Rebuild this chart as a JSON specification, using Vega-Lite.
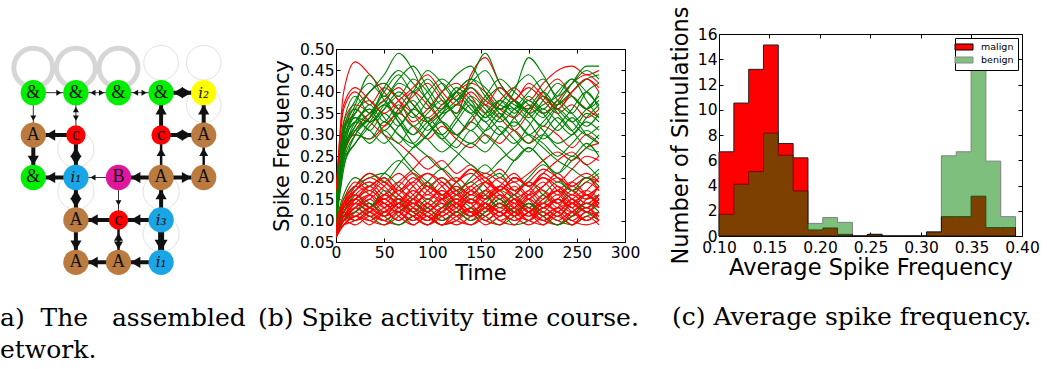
{
  "$schema": "https://vega.github.io/schema/vega-lite/v6.json",
  "background": "white",
  "padding": {"left": 0, "top": 5, "right": 5, "bottom": 5},
  "spacing": 94,
  "bounds": "flush",
  "resolve": {"scale": {"color": "independent"}, "legend": {"color": "independent"}},
  "datasets": {
    "nodes": [
      {"c": 0, "r": 0, "k": "and", "lab": "&"},
      {"c": 1, "r": 0, "k": "and", "lab": "&"},
      {"c": 2, "r": 0, "k": "and", "lab": "&"},
      {"c": 3, "r": 0, "k": "and", "lab": "&"},
      {"c": 4, "r": 0, "k": "out", "lab": "i₂"},
      {"c": 0, "r": 1, "k": "A", "lab": "A"},
      {"c": 1, "r": 1, "k": "c", "lab": "c"},
      {"c": 3, "r": 1, "k": "c", "lab": "c"},
      {"c": 4, "r": 1, "k": "A", "lab": "A"},
      {"c": 0, "r": 2, "k": "and", "lab": "&"},
      {"c": 1, "r": 2, "k": "in", "lab": "i₁"},
      {"c": 2, "r": 2, "k": "B", "lab": "B"},
      {"c": 3, "r": 2, "k": "A", "lab": "A"},
      {"c": 4, "r": 2, "k": "A", "lab": "A"},
      {"c": 1, "r": 3, "k": "A", "lab": "A"},
      {"c": 2, "r": 3, "k": "c", "lab": "c"},
      {"c": 3, "r": 3, "k": "in", "lab": "i₃"},
      {"c": 1, "r": 4, "k": "A", "lab": "A"},
      {"c": 2, "r": 4, "k": "A", "lab": "A"},
      {"c": 3, "r": 4, "k": "in", "lab": "i₁"}
    ],
    "edges": [
      {"c": 0, "r": 0, "c2": 1, "r2": 0, "w": 1},
      {"c": 1, "r": 0, "c2": 2, "r2": 0, "w": 1},
      {"c": 2, "r": 0, "c2": 3, "r2": 0, "w": 1},
      {"c": 3, "r": 0, "c2": 4, "r2": 0, "w": 3},
      {"c": 0, "r": 0, "c2": 0, "r2": 1, "w": 1},
      {"c": 1, "r": 0, "c2": 1, "r2": 1, "w": 1},
      {"c": 1, "r": 1, "c2": 0, "r2": 1, "w": 3},
      {"c": 0, "r": 1, "c2": 0, "r2": 2, "w": 3},
      {"c": 1, "r": 2, "c2": 1, "r2": 1, "w": 3},
      {"c": 1, "r": 2, "c2": 0, "r2": 2, "w": 3},
      {"c": 2, "r": 2, "c2": 1, "r2": 2, "w": 1},
      {"c": 3, "r": 2, "c2": 2, "r2": 2, "w": 3},
      {"c": 3, "r": 2, "c2": 4, "r2": 2, "w": 3},
      {"c": 3, "r": 1, "c2": 3, "r2": 0, "w": 3},
      {"c": 3, "r": 2, "c2": 3, "r2": 1, "w": 2},
      {"c": 3, "r": 1, "c2": 4, "r2": 1, "w": 3},
      {"c": 4, "r": 1, "c2": 4, "r2": 0, "w": 3},
      {"c": 4, "r": 2, "c2": 4, "r2": 1, "w": 2},
      {"c": 1, "r": 2, "c2": 1, "r2": 3, "w": 3},
      {"c": 2, "r": 2, "c2": 2, "r2": 3, "w": 1},
      {"c": 3, "r": 3, "c2": 3, "r2": 2, "w": 3},
      {"c": 3, "r": 3, "c2": 2, "r2": 3, "w": 3},
      {"c": 2, "r": 3, "c2": 1, "r2": 3, "w": 3},
      {"c": 1, "r": 3, "c2": 1, "r2": 4, "w": 3},
      {"c": 2, "r": 3, "c2": 2, "r2": 4, "w": 2},
      {"c": 3, "r": 3, "c2": 3, "r2": 4, "w": 4},
      {"c": 3, "r": 4, "c2": 2, "r2": 4, "w": 3},
      {"c": 2, "r": 4, "c2": 1, "r2": 4, "w": 3}
    ],
    "heads": [
      {"c": 1, "r": 0, "dir": "R", "w": 1},
      {"c": 2, "r": 0, "dir": "R", "w": 1},
      {"c": 1, "r": 0, "dir": "L", "w": 1},
      {"c": 3, "r": 0, "dir": "R", "w": 1},
      {"c": 2, "r": 0, "dir": "L", "w": 1},
      {"c": 4, "r": 0, "dir": "R", "w": 3},
      {"c": 3, "r": 0, "dir": "L", "w": 3},
      {"c": 0, "r": 1, "dir": "D", "w": 1},
      {"c": 1, "r": 1, "dir": "D", "w": 1},
      {"c": 1, "r": 0, "dir": "U", "w": 1},
      {"c": 0, "r": 1, "dir": "L", "w": 3},
      {"c": 0, "r": 2, "dir": "D", "w": 3},
      {"c": 1, "r": 1, "dir": "U", "w": 3},
      {"c": 1, "r": 2, "dir": "D", "w": 3},
      {"c": 0, "r": 2, "dir": "L", "w": 3},
      {"c": 1, "r": 2, "dir": "L", "w": 1},
      {"c": 2, "r": 2, "dir": "L", "w": 3},
      {"c": 4, "r": 2, "dir": "R", "w": 3},
      {"c": 3, "r": 0, "dir": "U", "w": 3},
      {"c": 3, "r": 1, "dir": "U", "w": 2},
      {"c": 4, "r": 1, "dir": "R", "w": 3},
      {"c": 3, "r": 1, "dir": "L", "w": 3},
      {"c": 4, "r": 0, "dir": "U", "w": 3},
      {"c": 4, "r": 1, "dir": "U", "w": 2},
      {"c": 1, "r": 3, "dir": "D", "w": 3},
      {"c": 1, "r": 2, "dir": "U", "w": 3},
      {"c": 2, "r": 3, "dir": "D", "w": 1},
      {"c": 3, "r": 2, "dir": "U", "w": 3},
      {"c": 2, "r": 3, "dir": "L", "w": 3},
      {"c": 1, "r": 3, "dir": "L", "w": 3},
      {"c": 1, "r": 4, "dir": "D", "w": 3},
      {"c": 2, "r": 4, "dir": "D", "w": 2},
      {"c": 2, "r": 3, "dir": "U", "w": 2},
      {"c": 3, "r": 4, "dir": "D", "w": 4},
      {"c": 2, "r": 4, "dir": "L", "w": 3},
      {"c": 1, "r": 4, "dir": "L", "w": 3}
    ],
    "loops": [
      {"c": 0, "r": 0, "kind": "thick"},
      {"c": 1, "r": 0, "kind": "thick"},
      {"c": 2, "r": 0, "kind": "thick"},
      {"c": 3, "r": 0, "kind": "above"},
      {"c": 4, "r": 0, "kind": "above"},
      {"c": 4, "r": 1, "kind": "above"},
      {"c": 1, "r": 1, "kind": "below"},
      {"c": 1, "r": 2, "kind": "below"},
      {"c": 3, "r": 2, "kind": "below"},
      {"c": 3, "r": 3, "kind": "below"}
    ],
    "runs": [
      {"s": 1, "g": "malign"}, {"s": 2, "g": "malign"}, {"s": 3, "g": "malign"}, {"s": 4, "g": "malign"},
      {"s": 5, "g": "malign"}, {"s": 6, "g": "malign"}, {"s": 7, "g": "malign"}, {"s": 8, "g": "malign"},
      {"s": 9, "g": "benign"}, {"s": 10, "g": "benign"}, {"s": 11, "g": "benign"}, {"s": 12, "g": "benign"},
      {"s": 13, "g": "benign"}, {"s": 14, "g": "benign"}, {"s": 15, "g": "benign"}, {"s": 16, "g": "benign"},
      {"s": 17, "g": "benign"}, {"s": 18, "g": "benign"}, {"s": 19, "g": "benign"}, {"s": 20, "g": "benign"},
      {"s": 21, "g": "benign"}, {"s": 22, "g": "benign"}, {"s": 23, "g": "benign"}, {"s": 24, "g": "benign"},
      {"s": 25, "g": "benign"}, {"s": 26, "g": "benign"}, {"s": 27, "g": "benign"}, {"s": 28, "g": "benign"},
      {"s": 29, "g": "benign"},
      {"s": 30, "g": "malign"}, {"s": 31, "g": "malign"}, {"s": 32, "g": "malign"}, {"s": 33, "g": "malign"},
      {"s": 34, "g": "malign"}, {"s": 35, "g": "malign"}, {"s": 36, "g": "malign"}, {"s": 37, "g": "malign"},
      {"s": 38, "g": "malign"}, {"s": 39, "g": "malign"}, {"s": 40, "g": "malign"}, {"s": 41, "g": "malign"},
      {"s": 42, "g": "malign"}, {"s": 43, "g": "malign"}, {"s": 44, "g": "malign"}, {"s": 45, "g": "malign"},
      {"s": 46, "g": "malign"}, {"s": 47, "g": "malign"}, {"s": 48, "g": "malign"}, {"s": 49, "g": "malign"},
      {"s": 50, "g": "malign"}, {"s": 51, "g": "malign"}, {"s": 52, "g": "malign"},
      {"s": 53, "g": "benign"}, {"s": 54, "g": "benign"}, {"s": 55, "g": "benign"}, {"s": 56, "g": "benign"},
      {"s": 57, "g": "benign"}, {"s": 58, "g": "benign"}, {"s": 59, "g": "benign"}, {"s": 60, "g": "benign"},
      {"s": 61, "g": "malign"}, {"s": 62, "g": "malign"}, {"s": 63, "g": "malign"}, {"s": 64, "g": "malign"},
      {"s": 65, "g": "malign"}, {"s": 66, "g": "malign"}, {"s": 67, "g": "malign"}, {"s": 68, "g": "malign"}
    ],
    "traces": [
      {"s":1,"t":0,"y":0.15},{"s":1,"t":8,"y":0.40},{"s":1,"t":20,"y":0.47},{"s":1,"t":35,"y":0.44},{"s":1,"t":50,"y":0.40},{"s":1,"t":65,"y":0.36},{"s":1,"t":80,"y":0.39},{"s":1,"t":95,"y":0.42},{"s":1,"t":110,"y":0.38},{"s":1,"t":125,"y":0.35},{"s":1,"t":140,"y":0.44},{"s":1,"t":155,"y":0.48},{"s":1,"t":170,"y":0.42},{"s":1,"t":185,"y":0.38},{"s":1,"t":200,"y":0.36},{"s":1,"t":215,"y":0.40},{"s":1,"t":230,"y":0.43},{"s":1,"t":245,"y":0.39},{"s":1,"t":260,"y":0.36},{"s":1,"t":273,"y":0.34},
      {"s":2,"t":0,"y":0.14},{"s":2,"t":8,"y":0.36},{"s":2,"t":20,"y":0.40},{"s":2,"t":35,"y":0.37},{"s":2,"t":50,"y":0.41},{"s":2,"t":65,"y":0.38},{"s":2,"t":80,"y":0.33},{"s":2,"t":95,"y":0.36},{"s":2,"t":110,"y":0.40},{"s":2,"t":125,"y":0.42},{"s":2,"t":140,"y":0.39},{"s":2,"t":155,"y":0.35},{"s":2,"t":170,"y":0.38},{"s":2,"t":185,"y":0.41},{"s":2,"t":200,"y":0.38},{"s":2,"t":215,"y":0.42},{"s":2,"t":230,"y":0.45},{"s":2,"t":245,"y":0.46},{"s":2,"t":260,"y":0.44},{"s":2,"t":273,"y":0.45},
      {"s":3,"t":0,"y":0.12},{"s":3,"t":8,"y":0.33},{"s":3,"t":20,"y":0.37},{"s":3,"t":35,"y":0.35},{"s":3,"t":50,"y":0.32},{"s":3,"t":65,"y":0.36},{"s":3,"t":80,"y":0.40},{"s":3,"t":95,"y":0.37},{"s":3,"t":110,"y":0.33},{"s":3,"t":125,"y":0.30},{"s":3,"t":140,"y":0.33},{"s":3,"t":155,"y":0.37},{"s":3,"t":170,"y":0.34},{"s":3,"t":185,"y":0.31},{"s":3,"t":200,"y":0.35},{"s":3,"t":215,"y":0.39},{"s":3,"t":230,"y":0.37},{"s":3,"t":245,"y":0.40},{"s":3,"t":260,"y":0.43},{"s":3,"t":273,"y":0.40},
      {"s":4,"t":0,"y":0.16},{"s":4,"t":8,"y":0.32},{"s":4,"t":20,"y":0.35},{"s":4,"t":35,"y":0.40},{"s":4,"t":50,"y":0.42},{"s":4,"t":65,"y":0.38},{"s":4,"t":80,"y":0.35},{"s":4,"t":95,"y":0.33},{"s":4,"t":110,"y":0.36},{"s":4,"t":125,"y":0.39},{"s":4,"t":140,"y":0.41},{"s":4,"t":155,"y":0.38},{"s":4,"t":170,"y":0.36},{"s":4,"t":185,"y":0.38},{"s":4,"t":200,"y":0.41},{"s":4,"t":215,"y":0.38},{"s":4,"t":230,"y":0.35},{"s":4,"t":245,"y":0.37},{"s":4,"t":260,"y":0.34},{"s":4,"t":273,"y":0.36},
      {"s":5,"t":0,"y":0.13},{"s":5,"t":8,"y":0.28},{"s":5,"t":20,"y":0.30},{"s":5,"t":35,"y":0.29},{"s":5,"t":50,"y":0.32},{"s":5,"t":65,"y":0.35},{"s":5,"t":80,"y":0.32},{"s":5,"t":95,"y":0.29},{"s":5,"t":110,"y":0.32},{"s":5,"t":125,"y":0.29},{"s":5,"t":140,"y":0.27},{"s":5,"t":155,"y":0.30},{"s":5,"t":170,"y":0.28},{"s":5,"t":185,"y":0.31},{"s":5,"t":200,"y":0.28},{"s":5,"t":215,"y":0.32},{"s":5,"t":230,"y":0.30},{"s":5,"t":245,"y":0.27},{"s":5,"t":260,"y":0.30},{"s":5,"t":273,"y":0.28},
      {"s":6,"t":0,"y":0.11},{"s":6,"t":8,"y":0.30},{"s":6,"t":20,"y":0.36},{"s":6,"t":35,"y":0.33},{"s":6,"t":50,"y":0.30},{"s":6,"t":65,"y":0.28},{"s":6,"t":80,"y":0.25},{"s":6,"t":95,"y":0.22},{"s":6,"t":110,"y":0.24},{"s":6,"t":125,"y":0.21},{"s":6,"t":140,"y":0.23},{"s":6,"t":155,"y":0.20},{"s":6,"t":170,"y":0.22},{"s":6,"t":185,"y":0.19},{"s":6,"t":200,"y":0.21},{"s":6,"t":215,"y":0.24},{"s":6,"t":230,"y":0.26},{"s":6,"t":245,"y":0.24},{"s":6,"t":260,"y":0.27},{"s":6,"t":273,"y":0.28},
      {"s":7,"t":0,"y":0.10},{"s":7,"t":8,"y":0.25},{"s":7,"t":20,"y":0.31},{"s":7,"t":35,"y":0.35},{"s":7,"t":50,"y":0.38},{"s":7,"t":65,"y":0.41},{"s":7,"t":80,"y":0.37},{"s":7,"t":95,"y":0.34},{"s":7,"t":110,"y":0.37},{"s":7,"t":125,"y":0.40},{"s":7,"t":140,"y":0.42},{"s":7,"t":155,"y":0.40},{"s":7,"t":170,"y":0.36},{"s":7,"t":185,"y":0.34},{"s":7,"t":200,"y":0.37},{"s":7,"t":215,"y":0.35},{"s":7,"t":230,"y":0.38},{"s":7,"t":245,"y":0.42},{"s":7,"t":260,"y":0.44},{"s":7,"t":273,"y":0.42},
      {"s":8,"t":0,"y":0.08},{"s":8,"t":8,"y":0.14},{"s":8,"t":20,"y":0.17},{"s":8,"t":35,"y":0.19},{"s":8,"t":50,"y":0.16},{"s":8,"t":65,"y":0.19},{"s":8,"t":80,"y":0.22},{"s":8,"t":95,"y":0.25},{"s":8,"t":110,"y":0.22},{"s":8,"t":125,"y":0.19},{"s":8,"t":140,"y":0.22},{"s":8,"t":155,"y":0.20},{"s":8,"t":170,"y":0.17},{"s":8,"t":185,"y":0.20},{"s":8,"t":200,"y":0.18},{"s":8,"t":215,"y":0.21},{"s":8,"t":230,"y":0.19},{"s":8,"t":245,"y":0.22},{"s":8,"t":260,"y":0.25},{"s":8,"t":273,"y":0.24},
      {"s":9,"t":0,"y":0.10},{"s":9,"t":8,"y":0.28},{"s":9,"t":20,"y":0.36},{"s":9,"t":35,"y":0.40},{"s":9,"t":50,"y":0.44},{"s":9,"t":65,"y":0.49},{"s":9,"t":80,"y":0.45},{"s":9,"t":95,"y":0.38},{"s":9,"t":110,"y":0.36},{"s":9,"t":125,"y":0.40},{"s":9,"t":140,"y":0.43},{"s":9,"t":155,"y":0.41},{"s":9,"t":170,"y":0.37},{"s":9,"t":185,"y":0.36},{"s":9,"t":200,"y":0.38},{"s":9,"t":215,"y":0.35},{"s":9,"t":230,"y":0.37},{"s":9,"t":245,"y":0.40},{"s":9,"t":260,"y":0.43},{"s":9,"t":273,"y":0.44},
      {"s":10,"t":0,"y":0.12},{"s":10,"t":8,"y":0.30},{"s":10,"t":20,"y":0.37},{"s":10,"t":35,"y":0.44},{"s":10,"t":50,"y":0.38},{"s":10,"t":65,"y":0.35},{"s":10,"t":80,"y":0.40},{"s":10,"t":95,"y":0.45},{"s":10,"t":110,"y":0.42},{"s":10,"t":125,"y":0.38},{"s":10,"t":140,"y":0.43},{"s":10,"t":155,"y":0.49},{"s":10,"t":170,"y":0.42},{"s":10,"t":185,"y":0.38},{"s":10,"t":200,"y":0.34},{"s":10,"t":215,"y":0.38},{"s":10,"t":230,"y":0.42},{"s":10,"t":245,"y":0.39},{"s":10,"t":260,"y":0.36},{"s":10,"t":273,"y":0.38},
      {"s":11,"t":0,"y":0.09},{"s":11,"t":8,"y":0.26},{"s":11,"t":20,"y":0.34},{"s":11,"t":35,"y":0.33},{"s":11,"t":50,"y":0.37},{"s":11,"t":65,"y":0.42},{"s":11,"t":80,"y":0.40},{"s":11,"t":95,"y":0.36},{"s":11,"t":110,"y":0.40},{"s":11,"t":125,"y":0.44},{"s":11,"t":140,"y":0.46},{"s":11,"t":155,"y":0.40},{"s":11,"t":170,"y":0.36},{"s":11,"t":185,"y":0.40},{"s":11,"t":200,"y":0.48},{"s":11,"t":215,"y":0.44},{"s":11,"t":230,"y":0.38},{"s":11,"t":245,"y":0.35},{"s":11,"t":260,"y":0.40},{"s":11,"t":273,"y":0.42},
      {"s":12,"t":0,"y":0.11},{"s":12,"t":8,"y":0.29},{"s":12,"t":20,"y":0.33},{"s":12,"t":35,"y":0.36},{"s":12,"t":50,"y":0.31},{"s":12,"t":65,"y":0.35},{"s":12,"t":80,"y":0.38},{"s":12,"t":95,"y":0.33},{"s":12,"t":110,"y":0.30},{"s":12,"t":125,"y":0.34},{"s":12,"t":140,"y":0.38},{"s":12,"t":155,"y":0.35},{"s":12,"t":170,"y":0.31},{"s":12,"t":185,"y":0.28},{"s":12,"t":200,"y":0.32},{"s":12,"t":215,"y":0.36},{"s":12,"t":230,"y":0.33},{"s":12,"t":245,"y":0.30},{"s":12,"t":260,"y":0.34},{"s":12,"t":273,"y":0.37},
      {"s":13,"t":0,"y":0.08},{"s":13,"t":8,"y":0.25},{"s":13,"t":20,"y":0.32},{"s":13,"t":35,"y":0.35},{"s":13,"t":50,"y":0.39},{"s":13,"t":65,"y":0.36},{"s":13,"t":80,"y":0.32},{"s":13,"t":95,"y":0.35},{"s":13,"t":110,"y":0.38},{"s":13,"t":125,"y":0.34},{"s":13,"t":140,"y":0.31},{"s":13,"t":155,"y":0.35},{"s":13,"t":170,"y":0.38},{"s":13,"t":185,"y":0.36},{"s":13,"t":200,"y":0.33},{"s":13,"t":215,"y":0.29},{"s":13,"t":230,"y":0.32},{"s":13,"t":245,"y":0.36},{"s":13,"t":260,"y":0.40},{"s":13,"t":273,"y":0.36},
      {"s":14,"t":0,"y":0.13},{"s":14,"t":8,"y":0.31},{"s":14,"t":20,"y":0.35},{"s":14,"t":35,"y":0.40},{"s":14,"t":50,"y":0.42},{"s":14,"t":65,"y":0.39},{"s":14,"t":80,"y":0.43},{"s":14,"t":95,"y":0.40},{"s":14,"t":110,"y":0.35},{"s":14,"t":125,"y":0.37},{"s":14,"t":140,"y":0.41},{"s":14,"t":155,"y":0.37},{"s":14,"t":170,"y":0.34},{"s":14,"t":185,"y":0.38},{"s":14,"t":200,"y":0.35},{"s":14,"t":215,"y":0.31},{"s":14,"t":230,"y":0.28},{"s":14,"t":245,"y":0.30},{"s":14,"t":260,"y":0.33},{"s":14,"t":273,"y":0.31},
      {"s":15,"t":0,"y":0.10},{"s":15,"t":8,"y":0.27},{"s":15,"t":20,"y":0.31},{"s":15,"t":35,"y":0.34},{"s":15,"t":50,"y":0.37},{"s":15,"t":65,"y":0.33},{"s":15,"t":80,"y":0.30},{"s":15,"t":95,"y":0.33},{"s":15,"t":110,"y":0.36},{"s":15,"t":125,"y":0.40},{"s":15,"t":140,"y":0.37},{"s":15,"t":155,"y":0.33},{"s":15,"t":170,"y":0.36},{"s":15,"t":185,"y":0.34},{"s":15,"t":200,"y":0.30},{"s":15,"t":215,"y":0.33},{"s":15,"t":230,"y":0.37},{"s":15,"t":245,"y":0.42},{"s":15,"t":260,"y":0.46},{"s":15,"t":273,"y":0.46},
      {"s":16,"t":0,"y":0.12},{"s":16,"t":8,"y":0.28},{"s":16,"t":20,"y":0.35},{"s":16,"t":35,"y":0.38},{"s":16,"t":50,"y":0.34},{"s":16,"t":65,"y":0.30},{"s":16,"t":80,"y":0.28},{"s":16,"t":95,"y":0.32},{"s":16,"t":110,"y":0.35},{"s":16,"t":125,"y":0.38},{"s":16,"t":140,"y":0.42},{"s":16,"t":155,"y":0.45},{"s":16,"t":170,"y":0.40},{"s":16,"t":185,"y":0.37},{"s":16,"t":200,"y":0.36},{"s":16,"t":215,"y":0.39},{"s":16,"t":230,"y":0.35},{"s":16,"t":245,"y":0.31},{"s":16,"t":260,"y":0.27},{"s":16,"t":273,"y":0.26},
      {"s":17,"t":0,"y":0.09},{"s":17,"t":8,"y":0.24},{"s":17,"t":20,"y":0.30},{"s":17,"t":35,"y":0.34},{"s":17,"t":50,"y":0.41},{"s":17,"t":65,"y":0.45},{"s":17,"t":80,"y":0.42},{"s":17,"t":95,"y":0.38},{"s":17,"t":110,"y":0.33},{"s":17,"t":125,"y":0.30},{"s":17,"t":140,"y":0.34},{"s":17,"t":155,"y":0.38},{"s":17,"t":170,"y":0.41},{"s":17,"t":185,"y":0.38},{"s":17,"t":200,"y":0.35},{"s":17,"t":215,"y":0.37},{"s":17,"t":230,"y":0.39},{"s":17,"t":245,"y":0.43},{"s":17,"t":260,"y":0.38},{"s":17,"t":273,"y":0.34},
      {"s":18,"t":0,"y":0.14},{"s":18,"t":8,"y":0.32},{"s":18,"t":20,"y":0.36},{"s":18,"t":35,"y":0.33},{"s":18,"t":50,"y":0.36},{"s":18,"t":65,"y":0.39},{"s":18,"t":80,"y":0.35},{"s":18,"t":95,"y":0.31},{"s":18,"t":110,"y":0.35},{"s":18,"t":125,"y":0.40},{"s":18,"t":140,"y":0.43},{"s":18,"t":155,"y":0.39},{"s":18,"t":170,"y":0.35},{"s":18,"t":185,"y":0.32},{"s":18,"t":200,"y":0.36},{"s":18,"t":215,"y":0.40},{"s":18,"t":230,"y":0.36},{"s":18,"t":245,"y":0.33},{"s":18,"t":260,"y":0.36},{"s":18,"t":273,"y":0.39},
      {"s":19,"t":0,"y":0.11},{"s":19,"t":8,"y":0.27},{"s":19,"t":20,"y":0.33},{"s":19,"t":35,"y":0.31},{"s":19,"t":50,"y":0.28},{"s":19,"t":65,"y":0.32},{"s":19,"t":80,"y":0.36},{"s":19,"t":95,"y":0.40},{"s":19,"t":110,"y":0.43},{"s":19,"t":125,"y":0.40},{"s":19,"t":140,"y":0.36},{"s":19,"t":155,"y":0.33},{"s":19,"t":170,"y":0.30},{"s":19,"t":185,"y":0.34},{"s":19,"t":200,"y":0.38},{"s":19,"t":215,"y":0.35},{"s":19,"t":230,"y":0.31},{"s":19,"t":245,"y":0.34},{"s":19,"t":260,"y":0.30},{"s":19,"t":273,"y":0.28},
      {"s":20,"t":0,"y":0.10},{"s":20,"t":8,"y":0.26},{"s":20,"t":20,"y":0.30},{"s":20,"t":35,"y":0.29},{"s":20,"t":50,"y":0.33},{"s":20,"t":65,"y":0.30},{"s":20,"t":80,"y":0.27},{"s":20,"t":95,"y":0.30},{"s":20,"t":110,"y":0.33},{"s":20,"t":125,"y":0.30},{"s":20,"t":140,"y":0.28},{"s":20,"t":155,"y":0.31},{"s":20,"t":170,"y":0.35},{"s":20,"t":185,"y":0.31},{"s":20,"t":200,"y":0.28},{"s":20,"t":215,"y":0.30},{"s":20,"t":230,"y":0.27},{"s":20,"t":245,"y":0.25},{"s":20,"t":260,"y":0.28},{"s":20,"t":273,"y":0.25},
      {"s":21,"t":0,"y":0.11},{"s":21,"t":8,"y":0.25},{"s":21,"t":20,"y":0.33},{"s":21,"t":35,"y":0.36},{"s":21,"t":50,"y":0.30},{"s":21,"t":65,"y":0.26},{"s":21,"t":80,"y":0.22},{"s":21,"t":95,"y":0.19},{"s":21,"t":110,"y":0.16},{"s":21,"t":125,"y":0.18},{"s":21,"t":140,"y":0.15},{"s":21,"t":155,"y":0.17},{"s":21,"t":170,"y":0.14},{"s":21,"t":185,"y":0.16},{"s":21,"t":200,"y":0.19},{"s":21,"t":215,"y":0.16},{"s":21,"t":230,"y":0.14},{"s":21,"t":245,"y":0.17},{"s":21,"t":260,"y":0.15},{"s":21,"t":273,"y":0.16},
      {"s":22,"t":0,"y":0.09},{"s":22,"t":8,"y":0.22},{"s":22,"t":20,"y":0.30},{"s":22,"t":35,"y":0.34},{"s":22,"t":50,"y":0.38},{"s":22,"t":65,"y":0.33},{"s":22,"t":80,"y":0.28},{"s":22,"t":95,"y":0.25},{"s":22,"t":110,"y":0.22},{"s":22,"t":125,"y":0.25},{"s":22,"t":140,"y":0.28},{"s":22,"t":155,"y":0.26},{"s":22,"t":170,"y":0.30},{"s":22,"t":185,"y":0.33},{"s":22,"t":200,"y":0.30},{"s":22,"t":215,"y":0.27},{"s":22,"t":230,"y":0.24},{"s":22,"t":245,"y":0.22},{"s":22,"t":260,"y":0.20},{"s":22,"t":273,"y":0.22},
      {"s":23,"t":0,"y":0.08},{"s":23,"t":8,"y":0.15},{"s":23,"t":20,"y":0.18},{"s":23,"t":35,"y":0.21},{"s":23,"t":50,"y":0.19},{"s":23,"t":65,"y":0.23},{"s":23,"t":80,"y":0.27},{"s":23,"t":95,"y":0.30},{"s":23,"t":110,"y":0.34},{"s":23,"t":125,"y":0.37},{"s":23,"t":140,"y":0.35},{"s":23,"t":155,"y":0.31},{"s":23,"t":170,"y":0.34},{"s":23,"t":185,"y":0.38},{"s":23,"t":200,"y":0.35},{"s":23,"t":215,"y":0.32},{"s":23,"t":230,"y":0.36},{"s":23,"t":245,"y":0.33},{"s":23,"t":260,"y":0.30},{"s":23,"t":273,"y":0.32},
      {"s":24,"t":0,"y":0.12},{"s":24,"t":8,"y":0.24},{"s":24,"t":20,"y":0.28},{"s":24,"t":35,"y":0.32},{"s":24,"t":50,"y":0.36},{"s":24,"t":65,"y":0.40},{"s":24,"t":80,"y":0.37},{"s":24,"t":95,"y":0.33},{"s":24,"t":110,"y":0.29},{"s":24,"t":125,"y":0.26},{"s":24,"t":140,"y":0.23},{"s":24,"t":155,"y":0.21},{"s":24,"t":170,"y":0.24},{"s":24,"t":185,"y":0.27},{"s":24,"t":200,"y":0.30},{"s":24,"t":215,"y":0.28},{"s":24,"t":230,"y":0.25},{"s":24,"t":245,"y":0.28},{"s":24,"t":260,"y":0.31},{"s":24,"t":273,"y":0.29},
      {"s":25,"t":0,"y":0.07},{"s":25,"t":8,"y":0.12},{"s":25,"t":20,"y":0.15},{"s":25,"t":35,"y":0.17},{"s":25,"t":50,"y":0.14},{"s":25,"t":65,"y":0.12},{"s":25,"t":80,"y":0.15},{"s":25,"t":95,"y":0.18},{"s":25,"t":110,"y":0.16},{"s":25,"t":125,"y":0.13},{"s":25,"t":140,"y":0.11},{"s":25,"t":155,"y":0.14},{"s":25,"t":170,"y":0.17},{"s":25,"t":185,"y":0.15},{"s":25,"t":200,"y":0.12},{"s":25,"t":215,"y":0.14},{"s":25,"t":230,"y":0.17},{"s":25,"t":245,"y":0.15},{"s":25,"t":260,"y":0.13},{"s":25,"t":273,"y":0.15},
      {"s":26,"t":0,"y":0.08},{"s":26,"t":8,"y":0.10},{"s":26,"t":20,"y":0.13},{"s":26,"t":35,"y":0.11},{"s":26,"t":50,"y":0.09},{"s":26,"t":65,"y":0.12},{"s":26,"t":80,"y":0.14},{"s":26,"t":95,"y":0.11},{"s":26,"t":110,"y":0.09},{"s":26,"t":125,"y":0.10},{"s":26,"t":140,"y":0.13},{"s":26,"t":155,"y":0.11},{"s":26,"t":170,"y":0.09},{"s":26,"t":185,"y":0.11},{"s":26,"t":200,"y":0.14},{"s":26,"t":215,"y":0.12},{"s":26,"t":230,"y":0.10},{"s":26,"t":245,"y":0.09},{"s":26,"t":260,"y":0.11},{"s":26,"t":273,"y":0.12},
      {"s":27,"t":0,"y":0.06},{"s":27,"t":8,"y":0.14},{"s":27,"t":20,"y":0.18},{"s":27,"t":35,"y":0.20},{"s":27,"t":50,"y":0.21},{"s":27,"t":65,"y":0.18},{"s":27,"t":80,"y":0.15},{"s":27,"t":95,"y":0.19},{"s":27,"t":110,"y":0.22},{"s":27,"t":125,"y":0.19},{"s":27,"t":140,"y":0.16},{"s":27,"t":155,"y":0.19},{"s":27,"t":170,"y":0.21},{"s":27,"t":185,"y":0.17},{"s":27,"t":200,"y":0.20},{"s":27,"t":215,"y":0.23},{"s":27,"t":230,"y":0.20},{"s":27,"t":245,"y":0.17},{"s":27,"t":260,"y":0.19},{"s":27,"t":273,"y":0.21},
      {"s":28,"t":0,"y":0.09},{"s":28,"t":8,"y":0.11},{"s":28,"t":20,"y":0.10},{"s":28,"t":35,"y":0.13},{"s":28,"t":50,"y":0.16},{"s":28,"t":65,"y":0.14},{"s":28,"t":80,"y":0.11},{"s":28,"t":95,"y":0.09},{"s":28,"t":110,"y":0.12},{"s":28,"t":125,"y":0.15},{"s":28,"t":140,"y":0.13},{"s":28,"t":155,"y":0.10},{"s":28,"t":170,"y":0.12},{"s":28,"t":185,"y":0.09},{"s":28,"t":200,"y":0.10},{"s":28,"t":215,"y":0.13},{"s":28,"t":230,"y":0.11},{"s":28,"t":245,"y":0.14},{"s":28,"t":260,"y":0.12},{"s":28,"t":273,"y":0.10},
      {"s":29,"t":0,"y":0.10},{"s":29,"t":8,"y":0.16},{"s":29,"t":20,"y":0.20},{"s":29,"t":35,"y":0.18},{"s":29,"t":50,"y":0.21},{"s":29,"t":65,"y":0.24},{"s":29,"t":80,"y":0.21},{"s":29,"t":95,"y":0.18},{"s":29,"t":110,"y":0.20},{"s":29,"t":125,"y":0.17},{"s":29,"t":140,"y":0.20},{"s":29,"t":155,"y":0.23},{"s":29,"t":170,"y":0.20},{"s":29,"t":185,"y":0.24},{"s":29,"t":200,"y":0.27},{"s":29,"t":215,"y":0.24},{"s":29,"t":230,"y":0.21},{"s":29,"t":245,"y":0.25},{"s":29,"t":260,"y":0.23},{"s":29,"t":273,"y":0.20},
      {"s":30,"t":0,"y":0.07},{"s":30,"t":8,"y":0.11},{"s":30,"t":20,"y":0.14},{"s":30,"t":35,"y":0.16},{"s":30,"t":50,"y":0.13},{"s":30,"t":65,"y":0.10},{"s":30,"t":80,"y":0.13},{"s":30,"t":95,"y":0.16},{"s":30,"t":110,"y":0.14},{"s":30,"t":125,"y":0.11},{"s":30,"t":140,"y":0.13},{"s":30,"t":155,"y":0.16},{"s":30,"t":170,"y":0.18},{"s":30,"t":185,"y":0.15},{"s":30,"t":200,"y":0.12},{"s":30,"t":215,"y":0.15},{"s":30,"t":230,"y":0.17},{"s":30,"t":245,"y":0.14},{"s":30,"t":260,"y":0.12},{"s":30,"t":273,"y":0.14},
      {"s":31,"t":0,"y":0.08},{"s":31,"t":8,"y":0.10},{"s":31,"t":20,"y":0.12},{"s":31,"t":35,"y":0.10},{"s":31,"t":50,"y":0.09},{"s":31,"t":65,"y":0.11},{"s":31,"t":80,"y":0.14},{"s":31,"t":95,"y":0.12},{"s":31,"t":110,"y":0.10},{"s":31,"t":125,"y":0.12},{"s":31,"t":140,"y":0.15},{"s":31,"t":155,"y":0.13},{"s":31,"t":170,"y":0.10},{"s":31,"t":185,"y":0.09},{"s":31,"t":200,"y":0.12},{"s":31,"t":215,"y":0.10},{"s":31,"t":230,"y":0.09},{"s":31,"t":245,"y":0.11},{"s":31,"t":260,"y":0.13},{"s":31,"t":273,"y":0.11},
      {"s":32,"t":0,"y":0.09},{"s":32,"t":8,"y":0.13},{"s":32,"t":20,"y":0.17},{"s":32,"t":35,"y":0.20},{"s":32,"t":50,"y":0.18},{"s":32,"t":65,"y":0.15},{"s":32,"t":80,"y":0.18},{"s":32,"t":95,"y":0.21},{"s":32,"t":110,"y":0.18},{"s":32,"t":125,"y":0.15},{"s":32,"t":140,"y":0.18},{"s":32,"t":155,"y":0.20},{"s":32,"t":170,"y":0.17},{"s":32,"t":185,"y":0.20},{"s":32,"t":200,"y":0.18},{"s":32,"t":215,"y":0.15},{"s":32,"t":230,"y":0.18},{"s":32,"t":245,"y":0.16},{"s":32,"t":260,"y":0.19},{"s":32,"t":273,"y":0.17},
      {"s":33,"t":0,"y":0.06},{"s":33,"t":8,"y":0.09},{"s":33,"t":20,"y":0.11},{"s":33,"t":35,"y":0.13},{"s":33,"t":50,"y":0.15},{"s":33,"t":65,"y":0.12},{"s":33,"t":80,"y":0.10},{"s":33,"t":95,"y":0.12},{"s":33,"t":110,"y":0.15},{"s":33,"t":125,"y":0.17},{"s":33,"t":140,"y":0.14},{"s":33,"t":155,"y":0.11},{"s":33,"t":170,"y":0.14},{"s":33,"t":185,"y":0.12},{"s":33,"t":200,"y":0.15},{"s":33,"t":215,"y":0.17},{"s":33,"t":230,"y":0.14},{"s":33,"t":245,"y":0.12},{"s":33,"t":260,"y":0.15},{"s":33,"t":273,"y":0.18},
      {"s":34,"t":0,"y":0.07},{"s":34,"t":8,"y":0.12},{"s":34,"t":20,"y":0.15},{"s":34,"t":35,"y":0.13},{"s":34,"t":50,"y":0.16},{"s":34,"t":65,"y":0.19},{"s":34,"t":80,"y":0.16},{"s":34,"t":95,"y":0.13},{"s":34,"t":110,"y":0.11},{"s":34,"t":125,"y":0.14},{"s":34,"t":140,"y":0.17},{"s":34,"t":155,"y":0.19},{"s":34,"t":170,"y":0.16},{"s":34,"t":185,"y":0.13},{"s":34,"t":200,"y":0.16},{"s":34,"t":215,"y":0.19},{"s":34,"t":230,"y":0.16},{"s":34,"t":245,"y":0.19},{"s":34,"t":260,"y":0.21},{"s":34,"t":273,"y":0.19},
      {"s":35,"t":0,"y":0.08},{"s":35,"t":8,"y":0.09},{"s":35,"t":20,"y":0.10},{"s":35,"t":35,"y":0.12},{"s":35,"t":50,"y":0.10},{"s":35,"t":65,"y":0.09},{"s":35,"t":80,"y":0.11},{"s":35,"t":95,"y":0.09},{"s":35,"t":110,"y":0.12},{"s":35,"t":125,"y":0.10},{"s":35,"t":140,"y":0.09},{"s":35,"t":155,"y":0.12},{"s":35,"t":170,"y":0.14},{"s":35,"t":185,"y":0.11},{"s":35,"t":200,"y":0.09},{"s":35,"t":215,"y":0.11},{"s":35,"t":230,"y":0.13},{"s":35,"t":245,"y":0.10},{"s":35,"t":260,"y":0.09},{"s":35,"t":273,"y":0.10},
      {"s":36,"t":0,"y":0.10},{"s":36,"t":8,"y":0.14},{"s":36,"t":20,"y":0.16},{"s":36,"t":35,"y":0.14},{"s":36,"t":50,"y":0.12},{"s":36,"t":65,"y":0.15},{"s":36,"t":80,"y":0.12},{"s":36,"t":95,"y":0.10},{"s":36,"t":110,"y":0.13},{"s":36,"t":125,"y":0.16},{"s":36,"t":140,"y":0.14},{"s":36,"t":155,"y":0.17},{"s":36,"t":170,"y":0.15},{"s":36,"t":185,"y":0.12},{"s":36,"t":200,"y":0.10},{"s":36,"t":215,"y":0.13},{"s":36,"t":230,"y":0.11},{"s":36,"t":245,"y":0.14},{"s":36,"t":260,"y":0.16},{"s":36,"t":273,"y":0.13},
      {"s":37,"t":0,"y":0.07},{"s":37,"t":8,"y":0.10},{"s":37,"t":20,"y":0.13},{"s":37,"t":35,"y":0.15},{"s":37,"t":50,"y":0.18},{"s":37,"t":65,"y":0.21},{"s":37,"t":80,"y":0.18},{"s":37,"t":95,"y":0.15},{"s":37,"t":110,"y":0.17},{"s":37,"t":125,"y":0.14},{"s":37,"t":140,"y":0.12},{"s":37,"t":155,"y":0.15},{"s":37,"t":170,"y":0.18},{"s":37,"t":185,"y":0.16},{"s":37,"t":200,"y":0.19},{"s":37,"t":215,"y":0.17},{"s":37,"t":230,"y":0.14},{"s":37,"t":245,"y":0.16},{"s":37,"t":260,"y":0.14},{"s":37,"t":273,"y":0.16},
      {"s":38,"t":0,"y":0.09},{"s":38,"t":8,"y":0.11},{"s":38,"t":20,"y":0.12},{"s":38,"t":35,"y":0.14},{"s":38,"t":50,"y":0.11},{"s":38,"t":65,"y":0.13},{"s":38,"t":80,"y":0.16},{"s":38,"t":95,"y":0.19},{"s":38,"t":110,"y":0.16},{"s":38,"t":125,"y":0.19},{"s":38,"t":140,"y":0.21},{"s":38,"t":155,"y":0.18},{"s":38,"t":170,"y":0.15},{"s":38,"t":185,"y":0.18},{"s":38,"t":200,"y":0.15},{"s":38,"t":215,"y":0.12},{"s":38,"t":230,"y":0.15},{"s":38,"t":245,"y":0.13},{"s":38,"t":260,"y":0.16},{"s":38,"t":273,"y":0.14},
      {"s":39,"t":0,"y":0.06},{"s":39,"t":8,"y":0.10},{"s":39,"t":20,"y":0.14},{"s":39,"t":35,"y":0.12},{"s":39,"t":50,"y":0.14},{"s":39,"t":65,"y":0.11},{"s":39,"t":80,"y":0.09},{"s":39,"t":95,"y":0.11},{"s":39,"t":110,"y":0.09},{"s":39,"t":125,"y":0.12},{"s":39,"t":140,"y":0.10},{"s":39,"t":155,"y":0.13},{"s":39,"t":170,"y":0.11},{"s":39,"t":185,"y":0.14},{"s":39,"t":200,"y":0.12},{"s":39,"t":215,"y":0.09},{"s":39,"t":230,"y":0.12},{"s":39,"t":245,"y":0.10},{"s":39,"t":260,"y":0.12},{"s":39,"t":273,"y":0.11},
      {"s":40,"t":0,"y":0.08},{"s":40,"t":8,"y":0.12},{"s":40,"t":20,"y":0.16},{"s":40,"t":35,"y":0.18},{"s":40,"t":50,"y":0.15},{"s":40,"t":65,"y":0.17},{"s":40,"t":80,"y":0.14},{"s":40,"t":95,"y":0.17},{"s":40,"t":110,"y":0.20},{"s":40,"t":125,"y":0.17},{"s":40,"t":140,"y":0.14},{"s":40,"t":155,"y":0.16},{"s":40,"t":170,"y":0.13},{"s":40,"t":185,"y":0.15},{"s":40,"t":200,"y":0.17},{"s":40,"t":215,"y":0.20},{"s":40,"t":230,"y":0.18},{"s":40,"t":245,"y":0.15},{"s":40,"t":260,"y":0.13},{"s":40,"t":273,"y":0.15},
      {"s":41,"t":0,"y":0.07},{"s":41,"t":8,"y":0.13},{"s":41,"t":20,"y":0.18},{"s":41,"t":35,"y":0.21},{"s":41,"t":50,"y":0.19},{"s":41,"t":65,"y":0.16},{"s":41,"t":80,"y":0.14},{"s":41,"t":95,"y":0.12},{"s":41,"t":110,"y":0.14},{"s":41,"t":125,"y":0.12},{"s":41,"t":140,"y":0.15},{"s":41,"t":155,"y":0.13},{"s":41,"t":170,"y":0.16},{"s":41,"t":185,"y":0.14},{"s":41,"t":200,"y":0.11},{"s":41,"t":215,"y":0.13},{"s":41,"t":230,"y":0.15},{"s":41,"t":245,"y":0.13},{"s":41,"t":260,"y":0.10},{"s":41,"t":273,"y":0.12},
      {"s":42,"t":0,"y":0.09},{"s":42,"t":8,"y":0.10},{"s":42,"t":20,"y":0.11},{"s":42,"t":35,"y":0.09},{"s":42,"t":50,"y":0.12},{"s":42,"t":65,"y":0.14},{"s":42,"t":80,"y":0.12},{"s":42,"t":95,"y":0.14},{"s":42,"t":110,"y":0.11},{"s":42,"t":125,"y":0.09},{"s":42,"t":140,"y":0.11},{"s":42,"t":155,"y":0.14},{"s":42,"t":170,"y":0.12},{"s":42,"t":185,"y":0.15},{"s":42,"t":200,"y":0.13},{"s":42,"t":215,"y":0.11},{"s":42,"t":230,"y":0.09},{"s":42,"t":245,"y":0.12},{"s":42,"t":260,"y":0.14},{"s":42,"t":273,"y":0.13},
      {"s":43,"t":0,"y":0.10},{"s":43,"t":8,"y":0.15},{"s":43,"t":20,"y":0.19},{"s":43,"t":35,"y":0.17},{"s":43,"t":50,"y":0.20},{"s":43,"t":65,"y":0.17},{"s":43,"t":80,"y":0.20},{"s":43,"t":95,"y":0.17},{"s":43,"t":110,"y":0.15},{"s":43,"t":125,"y":0.17},{"s":43,"t":140,"y":0.19},{"s":43,"t":155,"y":0.21},{"s":43,"t":170,"y":0.19},{"s":43,"t":185,"y":0.17},{"s":43,"t":200,"y":0.19},{"s":43,"t":215,"y":0.22},{"s":43,"t":230,"y":0.20},{"s":43,"t":245,"y":0.18},{"s":43,"t":260,"y":0.20},{"s":43,"t":273,"y":0.19},
      {"s":44,"t":0,"y":0.06},{"s":44,"t":8,"y":0.11},{"s":44,"t":20,"y":0.13},{"s":44,"t":35,"y":0.11},{"s":44,"t":50,"y":0.13},{"s":44,"t":65,"y":0.15},{"s":44,"t":80,"y":0.13},{"s":44,"t":95,"y":0.11},{"s":44,"t":110,"y":0.09},{"s":44,"t":125,"y":0.11},{"s":44,"t":140,"y":0.13},{"s":44,"t":155,"y":0.10},{"s":44,"t":170,"y":0.12},{"s":44,"t":185,"y":0.10},{"s":44,"t":200,"y":0.12},{"s":44,"t":215,"y":0.14},{"s":44,"t":230,"y":0.12},{"s":44,"t":245,"y":0.09},{"s":44,"t":260,"y":0.11},{"s":44,"t":273,"y":0.09},
      {"s":45,"t":0,"y":0.08},{"s":45,"t":8,"y":0.14},{"s":45,"t":20,"y":0.15},{"s":45,"t":35,"y":0.17},{"s":45,"t":50,"y":0.14},{"s":45,"t":65,"y":0.12},{"s":45,"t":80,"y":0.15},{"s":45,"t":95,"y":0.13},{"s":45,"t":110,"y":0.16},{"s":45,"t":125,"y":0.14},{"s":45,"t":140,"y":0.17},{"s":45,"t":155,"y":0.15},{"s":45,"t":170,"y":0.18},{"s":45,"t":185,"y":0.16},{"s":45,"t":200,"y":0.13},{"s":45,"t":215,"y":0.16},{"s":45,"t":230,"y":0.13},{"s":45,"t":245,"y":0.15},{"s":45,"t":260,"y":0.17},{"s":45,"t":273,"y":0.15},
      {"s":46,"t":0,"y":0.07},{"s":46,"t":8,"y":0.09},{"s":46,"t":20,"y":0.12},{"s":46,"t":35,"y":0.15},{"s":46,"t":50,"y":0.12},{"s":46,"t":65,"y":0.14},{"s":46,"t":80,"y":0.17},{"s":46,"t":95,"y":0.14},{"s":46,"t":110,"y":0.12},{"s":46,"t":125,"y":0.14},{"s":46,"t":140,"y":0.12},{"s":46,"t":155,"y":0.09},{"s":46,"t":170,"y":0.11},{"s":46,"t":185,"y":0.13},{"s":46,"t":200,"y":0.16},{"s":46,"t":215,"y":0.13},{"s":46,"t":230,"y":0.15},{"s":46,"t":245,"y":0.18},{"s":46,"t":260,"y":0.16},{"s":46,"t":273,"y":0.18},
      {"s":47,"t":0,"y":0.09},{"s":47,"t":8,"y":0.12},{"s":47,"t":20,"y":0.14},{"s":47,"t":35,"y":0.12},{"s":47,"t":50,"y":0.10},{"s":47,"t":65,"y":0.12},{"s":47,"t":80,"y":0.10},{"s":47,"t":95,"y":0.13},{"s":47,"t":110,"y":0.15},{"s":47,"t":125,"y":0.13},{"s":47,"t":140,"y":0.16},{"s":47,"t":155,"y":0.14},{"s":47,"t":170,"y":0.11},{"s":47,"t":185,"y":0.13},{"s":47,"t":200,"y":0.10},{"s":47,"t":215,"y":0.12},{"s":47,"t":230,"y":0.10},{"s":47,"t":245,"y":0.12},{"s":47,"t":260,"y":0.10},{"s":47,"t":273,"y":0.12},
      {"s":48,"t":0,"y":0.08},{"s":48,"t":8,"y":0.13},{"s":48,"t":20,"y":0.17},{"s":48,"t":35,"y":0.19},{"s":48,"t":50,"y":0.17},{"s":48,"t":65,"y":0.14},{"s":48,"t":80,"y":0.17},{"s":48,"t":95,"y":0.15},{"s":48,"t":110,"y":0.18},{"s":48,"t":125,"y":0.20},{"s":48,"t":140,"y":0.17},{"s":48,"t":155,"y":0.15},{"s":48,"t":170,"y":0.17},{"s":48,"t":185,"y":0.19},{"s":48,"t":200,"y":0.16},{"s":48,"t":215,"y":0.18},{"s":48,"t":230,"y":0.21},{"s":48,"t":245,"y":0.18},{"s":48,"t":260,"y":0.20},{"s":48,"t":273,"y":0.17},
      {"s":49,"t":0,"y":0.10},{"s":49,"t":8,"y":0.12},{"s":49,"t":20,"y":0.10},{"s":49,"t":35,"y":0.12},{"s":49,"t":50,"y":0.15},{"s":49,"t":65,"y":0.13},{"s":49,"t":80,"y":0.15},{"s":49,"t":95,"y":0.18},{"s":49,"t":110,"y":0.15},{"s":49,"t":125,"y":0.12},{"s":49,"t":140,"y":0.15},{"s":49,"t":155,"y":0.12},{"s":49,"t":170,"y":0.14},{"s":49,"t":185,"y":0.11},{"s":49,"t":200,"y":0.14},{"s":49,"t":215,"y":0.11},{"s":49,"t":230,"y":0.13},{"s":49,"t":245,"y":0.11},{"s":49,"t":260,"y":0.13},{"s":49,"t":273,"y":0.10},
      {"s":50,"t":0,"y":0.07},{"s":50,"t":8,"y":0.11},{"s":50,"t":20,"y":0.13},{"s":50,"t":35,"y":0.16},{"s":50,"t":50,"y":0.19},{"s":50,"t":65,"y":0.16},{"s":50,"t":80,"y":0.13},{"s":50,"t":95,"y":0.10},{"s":50,"t":110,"y":0.13},{"s":50,"t":125,"y":0.15},{"s":50,"t":140,"y":0.12},{"s":50,"t":155,"y":0.14},{"s":50,"t":170,"y":0.12},{"s":50,"t":185,"y":0.10},{"s":50,"t":200,"y":0.12},{"s":50,"t":215,"y":0.15},{"s":50,"t":230,"y":0.17},{"s":50,"t":245,"y":0.19},{"s":50,"t":260,"y":0.16},{"s":50,"t":273,"y":0.14},
      {"s":51,"t":0,"y":0.09},{"s":51,"t":8,"y":0.10},{"s":51,"t":20,"y":0.09},{"s":51,"t":35,"y":0.11},{"s":51,"t":50,"y":0.10},{"s":51,"t":65,"y":0.12},{"s":51,"t":80,"y":0.09},{"s":51,"t":95,"y":0.11},{"s":51,"t":110,"y":0.09},{"s":51,"t":125,"y":0.10},{"s":51,"t":140,"y":0.12},{"s":51,"t":155,"y":0.10},{"s":51,"t":170,"y":0.09},{"s":51,"t":185,"y":0.12},{"s":51,"t":200,"y":0.10},{"s":51,"t":215,"y":0.09},{"s":51,"t":230,"y":0.11},{"s":51,"t":245,"y":0.09},{"s":51,"t":260,"y":0.12},{"s":51,"t":273,"y":0.10},
      {"s":52,"t":0,"y":0.08},{"s":52,"t":8,"y":0.12},{"s":52,"t":20,"y":0.15},{"s":52,"t":35,"y":0.18},{"s":52,"t":50,"y":0.15},{"s":52,"t":65,"y":0.18},{"s":52,"t":80,"y":0.21},{"s":52,"t":95,"y":0.18},{"s":52,"t":110,"y":0.16},{"s":52,"t":125,"y":0.19},{"s":52,"t":140,"y":0.22},{"s":52,"t":155,"y":0.19},{"s":52,"t":170,"y":0.17},{"s":52,"t":185,"y":0.20},{"s":52,"t":200,"y":0.18},{"s":52,"t":215,"y":0.21},{"s":52,"t":230,"y":0.24},{"s":52,"t":245,"y":0.26},{"s":52,"t":260,"y":0.23},{"s":52,"t":273,"y":0.25},
      {"s":53,"t":0,"y":0.11},{"s":53,"t":8,"y":0.31},{"s":53,"t":20,"y":0.38},{"s":53,"t":35,"y":0.42},{"s":53,"t":50,"y":0.39},{"s":53,"t":65,"y":0.43},{"s":53,"t":80,"y":0.46},{"s":53,"t":95,"y":0.41},{"s":53,"t":110,"y":0.37},{"s":53,"t":125,"y":0.41},{"s":53,"t":140,"y":0.38},{"s":53,"t":155,"y":0.34},{"s":53,"t":170,"y":0.37},{"s":53,"t":185,"y":0.41},{"s":53,"t":200,"y":0.44},{"s":53,"t":215,"y":0.40},{"s":53,"t":230,"y":0.36},{"s":53,"t":245,"y":0.39},{"s":53,"t":260,"y":0.36},{"s":53,"t":273,"y":0.40},
      {"s":54,"t":0,"y":0.10},{"s":54,"t":8,"y":0.27},{"s":54,"t":20,"y":0.32},{"s":54,"t":35,"y":0.37},{"s":54,"t":50,"y":0.33},{"s":54,"t":65,"y":0.37},{"s":54,"t":80,"y":0.34},{"s":54,"t":95,"y":0.38},{"s":54,"t":110,"y":0.42},{"s":54,"t":125,"y":0.38},{"s":54,"t":140,"y":0.35},{"s":54,"t":155,"y":0.39},{"s":54,"t":170,"y":0.43},{"s":54,"t":185,"y":0.40},{"s":54,"t":200,"y":0.37},{"s":54,"t":215,"y":0.34},{"s":54,"t":230,"y":0.38},{"s":54,"t":245,"y":0.35},{"s":54,"t":260,"y":0.32},{"s":54,"t":273,"y":0.35},
      {"s":55,"t":0,"y":0.12},{"s":55,"t":8,"y":0.29},{"s":55,"t":20,"y":0.34},{"s":55,"t":35,"y":0.31},{"s":55,"t":50,"y":0.35},{"s":55,"t":65,"y":0.32},{"s":55,"t":80,"y":0.36},{"s":55,"t":95,"y":0.33},{"s":55,"t":110,"y":0.29},{"s":55,"t":125,"y":0.33},{"s":55,"t":140,"y":0.37},{"s":55,"t":155,"y":0.34},{"s":55,"t":170,"y":0.38},{"s":55,"t":185,"y":0.35},{"s":55,"t":200,"y":0.39},{"s":55,"t":215,"y":0.36},{"s":55,"t":230,"y":0.40},{"s":55,"t":245,"y":0.43},{"s":55,"t":260,"y":0.40},{"s":55,"t":273,"y":0.37},
      {"s":56,"t":0,"y":0.09},{"s":56,"t":8,"y":0.23},{"s":56,"t":20,"y":0.28},{"s":56,"t":35,"y":0.33},{"s":56,"t":50,"y":0.37},{"s":56,"t":65,"y":0.34},{"s":56,"t":80,"y":0.30},{"s":56,"t":95,"y":0.34},{"s":56,"t":110,"y":0.30},{"s":56,"t":125,"y":0.27},{"s":56,"t":140,"y":0.31},{"s":56,"t":155,"y":0.28},{"s":56,"t":170,"y":0.32},{"s":56,"t":185,"y":0.29},{"s":56,"t":200,"y":0.26},{"s":56,"t":215,"y":0.30},{"s":56,"t":230,"y":0.34},{"s":56,"t":245,"y":0.31},{"s":56,"t":260,"y":0.35},{"s":56,"t":273,"y":0.33},
      {"s":57,"t":0,"y":0.13},{"s":57,"t":8,"y":0.33},{"s":57,"t":20,"y":0.39},{"s":57,"t":35,"y":0.35},{"s":57,"t":50,"y":0.40},{"s":57,"t":65,"y":0.44},{"s":57,"t":80,"y":0.40},{"s":57,"t":95,"y":0.43},{"s":57,"t":110,"y":0.39},{"s":57,"t":125,"y":0.35},{"s":57,"t":140,"y":0.39},{"s":57,"t":155,"y":0.36},{"s":57,"t":170,"y":0.33},{"s":57,"t":185,"y":0.36},{"s":57,"t":200,"y":0.40},{"s":57,"t":215,"y":0.43},{"s":57,"t":230,"y":0.39},{"s":57,"t":245,"y":0.42},{"s":57,"t":260,"y":0.45},{"s":57,"t":273,"y":0.43},
      {"s":58,"t":0,"y":0.10},{"s":58,"t":8,"y":0.26},{"s":58,"t":20,"y":0.31},{"s":58,"t":35,"y":0.28},{"s":58,"t":50,"y":0.31},{"s":58,"t":65,"y":0.28},{"s":58,"t":80,"y":0.32},{"s":58,"t":95,"y":0.29},{"s":58,"t":110,"y":0.26},{"s":58,"t":125,"y":0.29},{"s":58,"t":140,"y":0.33},{"s":58,"t":155,"y":0.30},{"s":58,"t":170,"y":0.27},{"s":58,"t":185,"y":0.24},{"s":58,"t":200,"y":0.27},{"s":58,"t":215,"y":0.24},{"s":58,"t":230,"y":0.21},{"s":58,"t":245,"y":0.24},{"s":58,"t":260,"y":0.27},{"s":58,"t":273,"y":0.30},
      {"s":59,"t":0,"y":0.08},{"s":59,"t":8,"y":0.12},{"s":59,"t":20,"y":0.16},{"s":59,"t":35,"y":0.13},{"s":59,"t":50,"y":0.17},{"s":59,"t":65,"y":0.15},{"s":59,"t":80,"y":0.12},{"s":59,"t":95,"y":0.15},{"s":59,"t":110,"y":0.13},{"s":59,"t":125,"y":0.16},{"s":59,"t":140,"y":0.19},{"s":59,"t":155,"y":0.16},{"s":59,"t":170,"y":0.13},{"s":59,"t":185,"y":0.16},{"s":59,"t":200,"y":0.13},{"s":59,"t":215,"y":0.16},{"s":59,"t":230,"y":0.19},{"s":59,"t":245,"y":0.17},{"s":59,"t":260,"y":0.20},{"s":59,"t":273,"y":0.18},
      {"s":60,"t":0,"y":0.07},{"s":60,"t":8,"y":0.10},{"s":60,"t":20,"y":0.12},{"s":60,"t":35,"y":0.14},{"s":60,"t":50,"y":0.11},{"s":60,"t":65,"y":0.09},{"s":60,"t":80,"y":0.11},{"s":60,"t":95,"y":0.13},{"s":60,"t":110,"y":0.10},{"s":60,"t":125,"y":0.12},{"s":60,"t":140,"y":0.10},{"s":60,"t":155,"y":0.12},{"s":60,"t":170,"y":0.15},{"s":60,"t":185,"y":0.12},{"s":60,"t":200,"y":0.14},{"s":60,"t":215,"y":0.11},{"s":60,"t":230,"y":0.09},{"s":60,"t":245,"y":0.11},{"s":60,"t":260,"y":0.14},{"s":60,"t":273,"y":0.12},
      {"s":61,"t":0,"y":0.08},{"s":61,"t":8,"y":0.13},{"s":61,"t":20,"y":0.16},{"s":61,"t":35,"y":0.13},{"s":61,"t":50,"y":0.11},{"s":61,"t":65,"y":0.14},{"s":61,"t":80,"y":0.11},{"s":61,"t":95,"y":0.14},{"s":61,"t":110,"y":0.17},{"s":61,"t":125,"y":0.14},{"s":61,"t":140,"y":0.11},{"s":61,"t":155,"y":0.13},{"s":61,"t":170,"y":0.16},{"s":61,"t":185,"y":0.13},{"s":61,"t":200,"y":0.11},{"s":61,"t":215,"y":0.14},{"s":61,"t":230,"y":0.12},{"s":61,"t":245,"y":0.15},{"s":61,"t":260,"y":0.13},{"s":61,"t":273,"y":0.16},
      {"s":62,"t":0,"y":0.07},{"s":62,"t":8,"y":0.11},{"s":62,"t":20,"y":0.15},{"s":62,"t":35,"y":0.18},{"s":62,"t":50,"y":0.20},{"s":62,"t":65,"y":0.17},{"s":62,"t":80,"y":0.19},{"s":62,"t":95,"y":0.16},{"s":62,"t":110,"y":0.19},{"s":62,"t":125,"y":0.16},{"s":62,"t":140,"y":0.18},{"s":62,"t":155,"y":0.15},{"s":62,"t":170,"y":0.18},{"s":62,"t":185,"y":0.21},{"s":62,"t":200,"y":0.18},{"s":62,"t":215,"y":0.20},{"s":62,"t":230,"y":0.17},{"s":62,"t":245,"y":0.14},{"s":62,"t":260,"y":0.17},{"s":62,"t":273,"y":0.20},
      {"s":63,"t":0,"y":0.09},{"s":63,"t":8,"y":0.12},{"s":63,"t":20,"y":0.11},{"s":63,"t":35,"y":0.13},{"s":63,"t":50,"y":0.11},{"s":63,"t":65,"y":0.14},{"s":63,"t":80,"y":0.12},{"s":63,"t":95,"y":0.10},{"s":63,"t":110,"y":0.12},{"s":63,"t":125,"y":0.14},{"s":63,"t":140,"y":0.11},{"s":63,"t":155,"y":0.13},{"s":63,"t":170,"y":0.10},{"s":63,"t":185,"y":0.12},{"s":63,"t":200,"y":0.15},{"s":63,"t":215,"y":0.13},{"s":63,"t":230,"y":0.15},{"s":63,"t":245,"y":0.12},{"s":63,"t":260,"y":0.10},{"s":63,"t":273,"y":0.12},
      {"s":64,"t":0,"y":0.06},{"s":64,"t":8,"y":0.10},{"s":64,"t":20,"y":0.13},{"s":64,"t":35,"y":0.16},{"s":64,"t":50,"y":0.14},{"s":64,"t":65,"y":0.17},{"s":64,"t":80,"y":0.15},{"s":64,"t":95,"y":0.12},{"s":64,"t":110,"y":0.15},{"s":64,"t":125,"y":0.18},{"s":64,"t":140,"y":0.16},{"s":64,"t":155,"y":0.19},{"s":64,"t":170,"y":0.17},{"s":64,"t":185,"y":0.14},{"s":64,"t":200,"y":0.17},{"s":64,"t":215,"y":0.14},{"s":64,"t":230,"y":0.16},{"s":64,"t":245,"y":0.13},{"s":64,"t":260,"y":0.16},{"s":64,"t":273,"y":0.14},
      {"s":65,"t":0,"y":0.10},{"s":65,"t":8,"y":0.13},{"s":65,"t":20,"y":0.15},{"s":65,"t":35,"y":0.13},{"s":65,"t":50,"y":0.16},{"s":65,"t":65,"y":0.13},{"s":65,"t":80,"y":0.11},{"s":65,"t":95,"y":0.09},{"s":65,"t":110,"y":0.11},{"s":65,"t":125,"y":0.13},{"s":65,"t":140,"y":0.16},{"s":65,"t":155,"y":0.14},{"s":65,"t":170,"y":0.12},{"s":65,"t":185,"y":0.15},{"s":65,"t":200,"y":0.12},{"s":65,"t":215,"y":0.10},{"s":65,"t":230,"y":0.13},{"s":65,"t":245,"y":0.16},{"s":65,"t":260,"y":0.14},{"s":65,"t":273,"y":0.16},
      {"s":66,"t":0,"y":0.08},{"s":66,"t":8,"y":0.14},{"s":66,"t":20,"y":0.18},{"s":66,"t":35,"y":0.16},{"s":66,"t":50,"y":0.13},{"s":66,"t":65,"y":0.16},{"s":66,"t":80,"y":0.19},{"s":66,"t":95,"y":0.21},{"s":66,"t":110,"y":0.19},{"s":66,"t":125,"y":0.16},{"s":66,"t":140,"y":0.14},{"s":66,"t":155,"y":0.17},{"s":66,"t":170,"y":0.20},{"s":66,"t":185,"y":0.17},{"s":66,"t":200,"y":0.15},{"s":66,"t":215,"y":0.18},{"s":66,"t":230,"y":0.20},{"s":66,"t":245,"y":0.17},{"s":66,"t":260,"y":0.15},{"s":66,"t":273,"y":0.18},
      {"s":67,"t":0,"y":0.07},{"s":67,"t":8,"y":0.09},{"s":67,"t":20,"y":0.11},{"s":67,"t":35,"y":0.10},{"s":67,"t":50,"y":0.12},{"s":67,"t":65,"y":0.10},{"s":67,"t":80,"y":0.13},{"s":67,"t":95,"y":0.11},{"s":67,"t":110,"y":0.13},{"s":67,"t":125,"y":0.11},{"s":67,"t":140,"y":0.09},{"s":67,"t":155,"y":0.11},{"s":67,"t":170,"y":0.13},{"s":67,"t":185,"y":0.11},{"s":67,"t":200,"y":0.13},{"s":67,"t":215,"y":0.10},{"s":67,"t":230,"y":0.12},{"s":67,"t":245,"y":0.14},{"s":67,"t":260,"y":0.12},{"s":67,"t":273,"y":0.15},
      {"s":68,"t":0,"y":0.17},{"s":68,"t":8,"y":0.37},{"s":68,"t":20,"y":0.41},{"s":68,"t":35,"y":0.38},{"s":68,"t":50,"y":0.35},{"s":68,"t":65,"y":0.38},{"s":68,"t":80,"y":0.41},{"s":68,"t":95,"y":0.44},{"s":68,"t":110,"y":0.40},{"s":68,"t":125,"y":0.37},{"s":68,"t":140,"y":0.40},{"s":68,"t":155,"y":0.37},{"s":68,"t":170,"y":0.41},{"s":68,"t":185,"y":0.38},{"s":68,"t":200,"y":0.42},{"s":68,"t":215,"y":0.39},{"s":68,"t":230,"y":0.36},{"s":68,"t":245,"y":0.40},{"s":68,"t":260,"y":0.43},{"s":68,"t":273,"y":0.41}
    ],
    "hist": [
      {"edge": 0.1, "malign": 6.67, "benign": 1.72},
      {"edge": 0.1147, "malign": 10.53, "benign": 4.1},
      {"edge": 0.1294, "malign": 13.2, "benign": 5.1},
      {"edge": 0.144, "malign": 15.13, "benign": 8.15},
      {"edge": 0.1587, "malign": 7.33, "benign": 6.4},
      {"edge": 0.1734, "malign": 6.19, "benign": 3.57},
      {"edge": 0.1881, "malign": 0.48, "benign": 1.0},
      {"edge": 0.2028, "malign": 0.63, "benign": 1.46},
      {"edge": 0.2174, "malign": 0.13, "benign": 1.08},
      {"edge": 0.2321, "malign": 0, "benign": 0},
      {"edge": 0.2468, "malign": 0.13, "benign": 0.13},
      {"edge": 0.2615, "malign": 0, "benign": 0},
      {"edge": 0.2762, "malign": 0, "benign": 0},
      {"edge": 0.2908, "malign": 0, "benign": 0},
      {"edge": 0.3055, "malign": 0.32, "benign": 0.32},
      {"edge": 0.3202, "malign": 1.53, "benign": 6.35},
      {"edge": 0.3349, "malign": 1.53, "benign": 6.67},
      {"edge": 0.3496, "malign": 3.15, "benign": 15.3},
      {"edge": 0.3642, "malign": 0.66, "benign": 5.93},
      {"edge": 0.3789, "malign": 0.66, "benign": 1.53},
      {"edge": 0.3936, "malign": 0, "benign": 0}
    ]
  },
  "hconcat": [
    {
      "width": 242,
      "height": 245,
      "view": {"stroke": null},
      "title": {"text": ["a)\u00a0\u00a0The\u00a0\u00a0\u00a0assembled", "etwork."], "orient": "bottom", "anchor": "start", "frame": "group", "offset": 27, "lineHeight": 32},
      "encoding": {
        "x": {"field": "c", "type": "quantitative", "axis": null, "scale": {"domain": [-0.782, 4.899], "nice": false, "zero": false}},
        "y": {"field": "r", "type": "quantitative", "axis": null, "scale": {"domain": [-1.384, 4.394], "nice": false, "zero": false, "reverse": true}}
      },
      "layer": [
        {
          "data": {"name": "loops"},
          "transform": [{"filter": "datum.kind === 'thick'"}],
          "mark": {"type": "point", "shape": "circle", "filled": false, "opacity": 1, "size": 1520, "stroke": "#d6d6d6", "strokeWidth": 5, "yOffset": -25}
        },
        {
          "data": {"name": "loops"},
          "transform": [{"filter": "datum.kind === 'above'"}],
          "mark": {"type": "point", "shape": "circle", "filled": false, "opacity": 1, "size": 1200, "stroke": "#e2e2e2", "strokeWidth": 1, "yOffset": -30}
        },
        {
          "data": {"name": "loops"},
          "transform": [{"filter": "datum.kind === 'below'"}],
          "mark": {"type": "point", "shape": "circle", "filled": false, "opacity": 1, "size": 1300, "stroke": "#e2e2e2", "strokeWidth": 1, "yOffset": 14}
        },
        {
          "data": {"name": "edges"},
          "transform": [{"filter": "datum.w === 1"}],
          "mark": {"type": "rule", "color": "#333333", "strokeWidth": 1},
          "encoding": {"x2": {"field": "c2"}, "y2": {"field": "r2"}}
        },
        {
          "data": {"name": "edges"},
          "transform": [{"filter": "datum.w === 2"}],
          "mark": {"type": "rule", "color": "#111111", "strokeWidth": 2.5},
          "encoding": {"x2": {"field": "c2"}, "y2": {"field": "r2"}}
        },
        {
          "data": {"name": "edges"},
          "transform": [{"filter": "datum.w === 3"}],
          "mark": {"type": "rule", "color": "#111111", "strokeWidth": 4},
          "encoding": {"x2": {"field": "c2"}, "y2": {"field": "r2"}}
        },
        {
          "data": {"name": "edges"},
          "transform": [{"filter": "datum.w === 4"}],
          "mark": {"type": "rule", "color": "#111111", "strokeWidth": 6},
          "encoding": {"x2": {"field": "c2"}, "y2": {"field": "r2"}}
        },
        {
          "data": {"name": "heads"},
          "transform": [{"filter": "datum.dir === 'R'"}],
          "mark": {"type": "point", "shape": "triangle-right", "filled": true, "opacity": 1, "color": "#111111", "strokeWidth": 0, "xOffset": -17},
          "encoding": {"size": {"field": "w", "type": "quantitative", "scale": {"domain": [1, 4], "range": [36, 170]}, "legend": null}}
        },
        {
          "data": {"name": "heads"},
          "transform": [{"filter": "datum.dir === 'L'"}],
          "mark": {"type": "point", "shape": "triangle-left", "filled": true, "opacity": 1, "color": "#111111", "strokeWidth": 0, "xOffset": 17},
          "encoding": {"size": {"field": "w", "type": "quantitative", "scale": {"domain": [1, 4], "range": [36, 170]}, "legend": null}}
        },
        {
          "data": {"name": "heads"},
          "transform": [{"filter": "datum.dir === 'U'"}],
          "mark": {"type": "point", "shape": "triangle-up", "filled": true, "opacity": 1, "color": "#111111", "strokeWidth": 0, "yOffset": 17},
          "encoding": {"size": {"field": "w", "type": "quantitative", "scale": {"domain": [1, 4], "range": [36, 170]}, "legend": null}}
        },
        {
          "data": {"name": "heads"},
          "transform": [{"filter": "datum.dir === 'D'"}],
          "mark": {"type": "point", "shape": "triangle-down", "filled": true, "opacity": 1, "color": "#111111", "strokeWidth": 0, "yOffset": -17},
          "encoding": {"size": {"field": "w", "type": "quantitative", "scale": {"domain": [1, 4], "range": [36, 170]}, "legend": null}}
        },
        {
          "data": {"name": "nodes"},
          "transform": [{"filter": "datum.k !== 'c'"}],
          "mark": {"type": "point", "shape": "circle", "filled": true, "opacity": 1, "size": 640, "strokeWidth": 0},
          "encoding": {
            "color": {"field": "k", "type": "nominal", "scale": {"domain": ["and", "A", "c", "B", "in", "out"], "range": ["#00ee00", "#bb7b40", "#ff0000", "#e0169c", "#1aa6e6", "#ffff00"]}, "legend": null}
          }
        },
        {
          "data": {"name": "nodes"},
          "transform": [{"filter": "datum.k === 'c'"}],
          "mark": {"type": "point", "shape": "circle", "filled": true, "opacity": 1, "size": 380, "strokeWidth": 0},
          "encoding": {
            "color": {"field": "k", "type": "nominal", "scale": {"domain": ["and", "A", "c", "B", "in", "out"], "range": ["#00ee00", "#bb7b40", "#ff0000", "#e0169c", "#1aa6e6", "#ffff00"]}, "legend": null}
          }
        },
        {
          "data": {"name": "nodes"},
          "transform": [{"filter": "datum.k !== 'in' && datum.k !== 'out'"}],
          "mark": {"type": "text", "font": "Liberation Serif", "fontSize": 18, "color": "#111111", "baseline": "middle", "align": "center"},
          "encoding": {"text": {"field": "lab"}}
        },
        {
          "data": {"name": "nodes"},
          "transform": [{"filter": "datum.k === 'in' || datum.k === 'out'"}],
          "mark": {"type": "text", "font": "DejaVu Serif", "fontStyle": "italic", "fontSize": 15, "color": "#111111", "baseline": "middle", "align": "center"},
          "encoding": {"text": {"field": "lab"}}
        }
      ]
    },
    {
      "width": 289,
      "height": 208,
      "view": {"stroke": null},
      "title": {"text": "(b) Spike activity time course.", "orient": "bottom", "anchor": "start", "frame": "group", "dx": -78, "offset": 22},
      "resolve": {"axis": {"x": "independent", "y": "independent"}},
      "layer": [
        {
          "data": {"name": "traces"},
          "transform": [{"lookup": "s", "from": {"data": {"name": "runs"}, "key": "s", "fields": ["g"]}}],
          "mark": {"type": "line", "interpolate": "monotone", "strokeWidth": 1.1, "clip": true},
          "encoding": {
            "x": {"field": "t", "type": "quantitative", "scale": {"domain": [0, 300], "nice": false, "zero": false},
                  "axis": {"values": [0, 50, 100, 150, 200, 250, 300], "title": "Time", "titleFontSize": 21, "labelPadding": 7, "titlePadding": 2, "domain": true, "domainColor": "#000000", "domainWidth": 1}},
            "y": {"field": "y", "type": "quantitative", "scale": {"domain": [0.05, 0.5], "range": [208, 15], "nice": false, "zero": false},
                  "axis": {"values": [0.05, 0.1, 0.15, 0.2, 0.25, 0.3, 0.35, 0.4, 0.45, 0.5], "format": ".2f", "title": "Spike Frequency", "titleFontSize": 21, "labelPadding": 6, "titlePadding": 7, "domain": true, "domainColor": "#000000", "domainWidth": 1}},
            "color": {"field": "g", "type": "nominal", "scale": {"domain": ["benign", "malign"], "range": ["#008000", "#ff0000"]}, "legend": null},
            "detail": {"field": "s", "type": "nominal"}
          }
        },
        {
          "data": {"values": [{"t": 0, "y": 0.05}]},
          "mark": {"type": "point", "opacity": 0},
          "encoding": {
            "x": {"field": "t", "type": "quantitative", "scale": {"domain": [0, 300], "nice": false, "zero": false},
                  "axis": {"orient": "top", "offset": -15, "values": [0, 50, 100, 150, 200, 250, 300], "labels": false, "title": null, "domain": true, "domainColor": "#000000", "domainWidth": 1}},
            "y": {"field": "y", "type": "quantitative", "scale": {"domain": [0.05, 0.5], "range": [208, 15], "nice": false, "zero": false},
                  "axis": {"orient": "right", "values": [0.05, 0.1, 0.15, 0.2, 0.25, 0.3, 0.35, 0.4, 0.45, 0.5], "labels": false, "title": null, "domain": true, "domainColor": "#000000", "domainWidth": 1}}
          }
        }
      ]
    },
    {
      "width": 303,
      "height": 202,
      "view": {"stroke": "#000000", "strokeWidth": 1},
      "title": {"text": "(c) Average spike frequency.", "orient": "bottom", "anchor": "start", "frame": "group", "dx": -47, "offset": 26},
      "resolve": {"axis": {"x": "independent", "y": "independent"}},
      "layer": [
        {
          "data": {"name": "hist"},
          "mark": {"type": "area", "interpolate": "step-after", "opacity": 1, "stroke": "#222222", "strokeWidth": 1},
          "encoding": {
            "x": {"field": "edge", "type": "quantitative", "scale": {"domain": [0.1, 0.4], "nice": false, "zero": false},
                  "axis": {"values": [0.1, 0.15, 0.2, 0.25, 0.3, 0.35, 0.4], "format": ".2f", "title": "Average Spike Frequency", "titleFontSize": 22.5, "labelPadding": 8, "titlePadding": 1}},
            "y": {"field": "malign", "type": "quantitative", "scale": {"domain": [0, 16], "nice": false},
                  "axis": {"values": [0, 2, 4, 6, 8, 10, 12, 14, 16], "title": "Number of Simulations", "titleFontSize": 22.5, "labelPadding": 6, "titlePadding": 5}},
            "color": {
              "datum": "malign",
              "scale": {"domain": ["malign", "benign"], "range": ["#ff0000", "#80c080"]},
              "legend": {
                "title": null,
                "orient": "top-right",
                "offset": 4,
                "fillColor": "#ffffff",
                "strokeColor": "#000000",
                "padding": 4,
                "labelFont": "DejaVu Sans",
                "labelFontSize": 9.5,
                "labelColor": "#000000",
                "labelOffset": 12,
                "rowPadding": 1,
                "symbolType": "M-2,-0.67H2V0.67H-2Z",
                "symbolSize": 81,
                "symbolOpacity": 1,
                "symbolStrokeWidth": 1,
                "symbolStrokeColor": "#000000",
                "encode": {"symbols": {"update": {"stroke": {"signal": "datum.value === 'benign' ? '#888888' : '#000000'"}, "strokeWidth": {"value": 1}}}}
              }
            }
          }
        },
        {
          "data": {"name": "hist"},
          "mark": {"type": "area", "interpolate": "step-after", "fill": "#008000", "opacity": 0.5, "stroke": "#000000", "strokeWidth": 1},
          "encoding": {
            "x": {"field": "edge", "type": "quantitative", "axis": null},
            "y": {"field": "benign", "type": "quantitative", "axis": null}
          }
        },
        {
          "data": {"values": [{"edge": 0.1, "malign": 0}]},
          "mark": {"type": "point", "opacity": 0},
          "encoding": {
            "x": {"field": "edge", "type": "quantitative", "axis": {"orient": "top", "values": [0.1, 0.15, 0.2, 0.25, 0.3, 0.35, 0.4], "labels": false, "title": null}},
            "y": {"field": "malign", "type": "quantitative", "axis": {"orient": "right", "values": [0, 2, 4, 6, 8, 10, 12, 14, 16], "labels": false, "title": null}}
          }
        }
      ]
    }
  ],
  "config": {
    "font": "DejaVu Sans",
    "view": {"stroke": null},
    "axis": {
      "domain": false,
      "grid": false,
      "ticks": true,
      "tickSize": -4,
      "tickColor": "#000000",
      "tickWidth": 1,
      "labelColor": "#000000",
      "titleColor": "#000000",
      "labelFont": "DejaVu Sans",
      "titleFont": "DejaVu Sans",
      "titleFontWeight": "normal",
      "labelFontSize": 15.5,
      "labelFlush": false,
      "labelOverlap": false,
      "labelBound": false
    },
    "title": {"font": "DejaVu Serif", "fontSize": 25, "fontWeight": "normal", "color": "#000000"}
  }
}
